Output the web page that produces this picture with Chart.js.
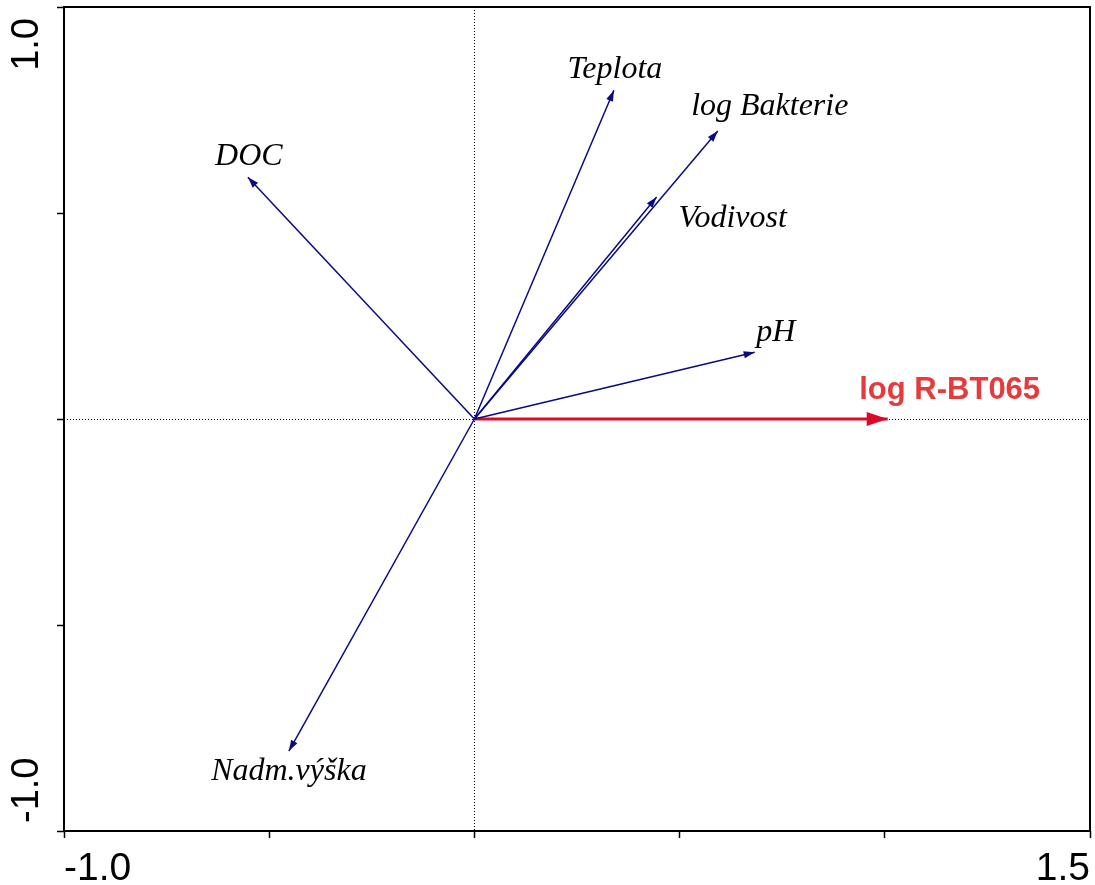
<!DOCTYPE html>
<html>
<head>
<meta charset="utf-8">
<script src="https://cdn.jsdelivr.net/npm/chart.js@4.4.0/dist/chart.umd.min.js"></script>
<style>
  html, body { margin: 0; padding: 0; background: #fff; }
  #wrap { width: 1095px; height: 885px; }
</style>
</head>
<body>
<div id="wrap"><canvas id="biplot"></canvas></div>
<script>
// Explanatory variables (blue arrows)
const varNames = ['Teplota', 'log Bakterie', 'Vodivost', 'pH', 'DOC', 'Nadm.výška'];
const varX = [0.340, 0.593, 0.444, 0.683, -0.552, -0.452];
const varY = [0.798, 0.699, 0.539, 0.162, 0.587, -0.806];

// Response variable (red arrow)
const respNames = ['log R-BT065'];
const respX = [1.007];
const respY = [0.0];

// Axes: ticks every 0.5, only the ends are labelled
const xTicks = [-1.0, -0.5, 0, 0.5, 1.0, 1.5];
const xTickLabels = ['-1.0', '', '', '', '', '1.5'];
const yTicks = [-1.0, -0.5, 0, 0.5, 1.0];
const yTickLabels = ['-1.0', '', '', '', '1.0'];

const BLUE = '#0a0a82';
const RED = '#dc0a28';
const RED_TEXT = '#e43c3c';

// label placement relative to arrow tip, in pixels
const labelShift = {
    'Teplota': [1, -21],
    'log Bakterie': [52, -24],
    'Vodivost': [76, 22],
    'pH': [21, -20],
    'DOC': [1, -21],
    'Nadm.výška': [0, 21],
    'log R-BT065': [62, -29]
};

function vectorSet(name, x, y, color, width) {
    return {
        label: name,
        data: [{ x: 0, y: 0 }, { x: x, y: y }],
        showLine: true,
        borderColor: color,
        backgroundColor: color,
        borderWidth: width,
        pointRadius: 0,
        pointHoverRadius: 0
    };
}

const datasets = [];
varNames.forEach((n, i) => datasets.push(vectorSet(n, varX[i], varY[i], BLUE, 1.5)));
respNames.forEach((n, i) => {
    const ds = vectorSet(n, respX[i], respY[i], RED, 3);
    ds.response = true;
    datasets.push(ds);
});

function drawHead(ctx, from, to, len, half, color) {
    const ang = Math.atan2(to.y - from.y, to.x - from.x);
    ctx.save();
    ctx.translate(to.x, to.y);
    ctx.rotate(ang);
    ctx.beginPath();
    ctx.moveTo(0, 0);
    ctx.lineTo(-len, -half);
    ctx.lineTo(-len, half);
    ctx.closePath();
    ctx.fillStyle = color;
    ctx.fill();
    ctx.restore();
}

const biplotDecor = {
    id: 'biplotDecor',
    beforeDatasetsDraw(chart) {
        // dotted zero lines
        const { ctx, chartArea: a, scales } = chart;
        const x0 = scales.x.getPixelForValue(0);
        const y0 = scales.y.getPixelForValue(0);
        ctx.save();
        ctx.strokeStyle = '#000';
        ctx.lineWidth = 1;
        ctx.setLineDash([1, 2]);
        ctx.beginPath();
        ctx.moveTo(Math.round(x0) + 0.5, a.top);
        ctx.lineTo(Math.round(x0) + 0.5, a.bottom);
        ctx.moveTo(a.left, Math.round(y0) + 0.5);
        ctx.lineTo(a.right, Math.round(y0) + 0.5);
        ctx.stroke();
        ctx.restore();
    },
    afterDraw(chart) {
        const { ctx, chartArea: a, scales } = chart;

        // arrowheads and labels
        chart.data.datasets.forEach((ds, i) => {
            const pts = chart.getDatasetMeta(i).data;
            const from = pts[0], to = pts[1];
            const sh = labelShift[ds.label] || [0, 0];
            ctx.save();
            if (ds.response) {
                drawHead(ctx, from, to, 21, 7, RED);
                ctx.font = 'bold 31px "Liberation Sans", Arial, sans-serif';
                ctx.fillStyle = RED_TEXT;
            } else {
                drawHead(ctx, from, to, 11, 3.6, BLUE);
                ctx.font = 'italic 32px "Liberation Serif", "Times New Roman", serif';
                ctx.fillStyle = '#000';
            }
            ctx.textAlign = 'center';
            ctx.textBaseline = 'middle';
            ctx.fillText(ds.label, to.x + sh[0], to.y + sh[1]);
            ctx.restore();
        });

        // frame
        ctx.save();
        ctx.strokeStyle = '#000';
        ctx.lineWidth = 2;
        ctx.strokeRect(a.left, a.top, a.right - a.left, a.bottom - a.top);
        ctx.restore();

        // rotated y tick labels
        ctx.save();
        ctx.font = '38px "Liberation Sans", Arial, sans-serif';
        ctx.fillStyle = '#000';
        ctx.textBaseline = 'middle';
        yTicks.forEach((v, i) => {
            const txt = yTickLabels[i];
            if (!txt) return;
            const py = scales.y.getPixelForValue(v);
            ctx.save();
            ctx.translate(28, py);
            ctx.rotate(-Math.PI / 2);
            if (i === yTicks.length - 1) {
                ctx.textAlign = 'right';
                ctx.fillText(txt, -11, 0);
            } else {
                ctx.textAlign = 'left';
                ctx.fillText(txt, 8, 0);
            }
            ctx.restore();
        });
        ctx.restore();
    }
};

new Chart(document.getElementById('biplot'), {
    type: 'scatter',
    data: { datasets: datasets },
    options: {
        responsive: true,
        maintainAspectRatio: false,
        animation: false,
        devicePixelRatio: 1,
        events: [],
        layout: { padding: { top: 7, right: 5, left: 0, bottom: 0 } },
        plugins: { legend: { display: false }, tooltip: { enabled: false } },
        scales: {
            x: {
                type: 'linear',
                min: -1.0,
                max: 1.5,
                afterBuildTicks: s => { s.ticks = xTicks.map(v => ({ value: v })); },
                afterFit: s => { s.height = 54; s.paddingLeft = 0; s.paddingRight = 0; },
                border: { display: false },
                grid: {
                    drawOnChartArea: false,
                    drawTicks: true,
                    tickLength: 7,
                    tickColor: '#000',
                    tickWidth: 1.5
                },
                ticks: {
                    align: 'inner',
                    padding: 8,
                    maxRotation: 0,
                    autoSkip: false,
                    color: '#000',
                    font: { family: '"Liberation Sans", Arial, sans-serif', size: 39 },
                    callback: (v, i) => xTickLabels[i]
                }
            },
            y: {
                type: 'linear',
                min: -1.0,
                max: 1.0,
                afterBuildTicks: s => { s.ticks = yTicks.map(v => ({ value: v })); },
                afterFit: s => { s.width = 64; s.paddingTop = 0; s.paddingBottom = 0; },
                border: { display: false },
                grid: {
                    drawOnChartArea: false,
                    drawTicks: true,
                    tickLength: 7,
                    tickColor: '#000',
                    tickWidth: 1.5
                },
                ticks: { display: false }
            }
        }
    },
    plugins: [biplotDecor]
});
</script>
</body>
</html>
